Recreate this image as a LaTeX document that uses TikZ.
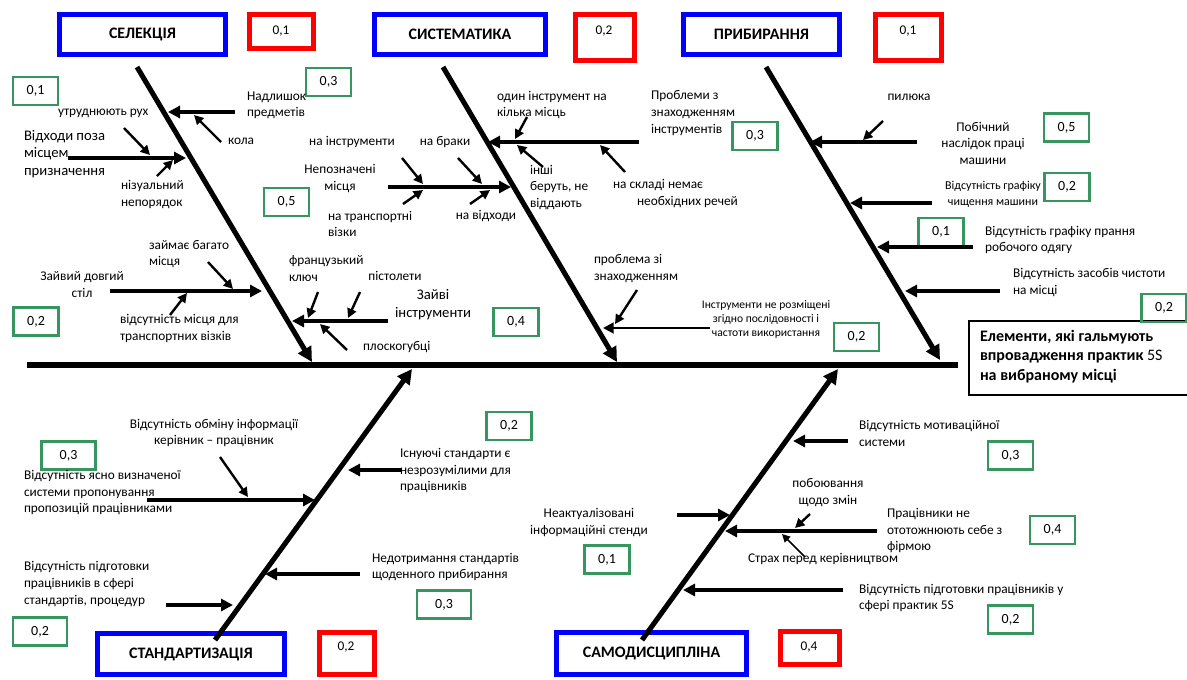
\documentclass[tikz,border=0pt]{standalone}
\usepackage{fontspec}
\setmainfont{Carlito}
\usetikzlibrary{arrows.meta}
\definecolor{gr}{RGB}{55,150,95}
\definecolor{bl}{RGB}{0,0,255}
\definecolor{rd}{RGB}{255,0,0}
\tikzset{
 every node/.style={inner sep=0pt, outer sep=0pt},
 lab/.style={font=\fontsize{10}{12.4}\selectfont, align=left},
 labc/.style={font=\fontsize{10}{12.4}\selectfont, align=center},
 big/.style={font=\fontsize{11}{13.2}\selectfont, align=left},
 bigc/.style={font=\fontsize{11}{13.2}\selectfont, align=center},
 gbox/.style={draw=gr, line width=1.9pt, minimum width=33.75pt, minimum height=21pt, font=\fontsize{10.5}{12}\selectfont},
 gboxw/.style={gbox, minimum width=40.5pt},
 rbox/.style={draw=rd, line width=3.8pt},
 rtxt/.style={font=\fontsize{10}{12}\selectfont},
 bbox/.style={draw=bl, line width=3.8pt, font=\bfseries\fontsize{12}{14}\selectfont},
 bone/.style={line width=3.8pt, -{Triangle[length=11pt,width=11pt]}},
 br/.style={line width=2.8pt, -{Triangle[length=9pt,width=9pt]}},
 brt/.style={line width=2pt, -{Triangle[length=8pt,width=8pt]}},
 sb/.style={line width=1.8pt, -{Triangle[length=7pt,width=7pt]}},
 sbt/.style={line width=1.1pt, -{Triangle[length=6pt,width=6pt]}},
}
\begin{document}
\begin{tikzpicture}[x=0.75pt,y=-0.75pt]
\useasboundingbox (0,0) rectangle (1187,679);
\fill[white] (0,0) rectangle (1187,679);

% ---------- header boxes ----------
\node[bbox, minimum width=124.5pt, minimum height=30pt] (b1) at (142.5,34.5) {СЕЛЕКЦІЯ};
\node[bbox, minimum width=128.25pt, minimum height=30pt] (b2) at (460,34.5) {СИСТЕМАТИКА};
\node[bbox, minimum width=117pt, minimum height=30pt] (b3) at (761.5,34.5) {ПРИБИРАННЯ};
\node[bbox, minimum width=140.25pt, minimum height=30.75pt] (b4) at (191,654) {СТАНДАРТИЗАЦІЯ};
\node[bbox, minimum width=142.5pt, minimum height=31.5pt] (b5) at (651.5,653.5) {САМОДИСЦИПЛІНА};

\node[rbox, minimum width=48pt, minimum height=25.5pt] (r1) at (281.5,31.5) {};
\node[rtxt] (r1t) at (281,31) {0,1};
\node[rbox, minimum width=44.25pt, minimum height=34.5pt] (r2) at (605,37.5) {};
\node[rtxt] (r2t) at (604,31) {0,2};
\node[rbox, minimum width=49.5pt, minimum height=34.5pt] (r3) at (908.5,37.5) {};
\node[rtxt] (r3t) at (908,31) {0,1};
\node[rbox, minimum width=41.25pt, minimum height=31.5pt] (r4) at (347,653.5) {};
\node[rtxt] (r4t) at (346,647) {0,2};
\node[rbox, minimum width=44.25pt, minimum height=24.75pt] (r5) at (810,648) {};
\node[rtxt] (r5t) at (809,647) {0,4};

% ---------- result box ----------
\node[draw, line width=1.5pt, anchor=north west, minimum width=175pt, minimum height=55.5pt] (res) at (969,321) {};
\node[font=\bfseries\fontsize{12}{14.6}\selectfont, align=left, anchor=west] (rest) at (980,356.5)
 {Елементи, які гальмують\\впровадження практик {\mdseries 5S}\\на вибраному місці};

% ---------- spine and bones ----------
\coordinate (sp0) at (27,365); \coordinate (sp1) at (958,365);
\draw[line width=3.8pt] (sp0) -- (sp1);
\coordinate (sel0) at (137,67);  \coordinate (sel1) at (312,362);
\coordinate (sys0) at (443,67);  \coordinate (sys1) at (617,362);
\coordinate (pr0)  at (766,67);  \coordinate (pr1)  at (940,360);
\coordinate (st0)  at (215,640); \coordinate (st1)  at (412,369);
\coordinate (sd0)  at (642,640); \coordinate (sd1)  at (838,369);
\draw[bone] (sel0) -- (sel1);
\draw[bone] (sys0) -- (sys1);
\draw[bone] (pr0) -- (pr1);
\draw[bone] (st0) -- (st1);
\draw[bone] (sd0) -- (sd1);

% ---------- green scores ----------
\node[gbox] (g1) at (35.5,91) {0,1};
\node[gbox] (g2) at (328.5,82) {0,3};
\node[gbox] (g3) at (286.5,202) {0,5};
\node[gbox] (g4) at (36,321.5) {0,2};
\node[gbox] (g5) at (516,322) {0,4};
\node[gbox] (g6) at (755,136) {0,3};
\node[gbox] (g7) at (856.5,337) {0,2};
\node[gbox] (g8) at (1066.5,127.5) {0,5};
\node[gbox] (g9) at (1067,187) {0,2};
\node[gbox] (g10) at (941,232) {0,1};
\node[gbox] (g11) at (1164,308) {0,2};
\node[gboxw] (g12) at (68.5,455.5) {0,3};
\node[gboxw] (g13) at (40,631.5) {0,2};
\node[gbox] (g14) at (509,426) {0,2};
\node[gboxw] (g15) at (444,604.5) {0,3};
\node[gbox] (g16) at (607,559.5) {0,1};
\node[gbox] (g17) at (1010.5,455.5) {0,3};
\node[gbox] (g18) at (1052.5,530) {0,4};
\node[gbox] (g19) at (1010.5,619.5) {0,2};

% ---------- СЕЛЕКЦІЯ ----------
\coordinate (a1s) at (235,112); \coordinate (a1e) at (168,112);
\coordinate (a1as) at (221,142); \coordinate (a1ae) at (194,115);
\draw[br] (a1s) -- (a1e);
\draw[sb] (a1as) -- (a1ae);
\coordinate (a2s) at (68,158); \coordinate (a2e) at (186,158);
\coordinate (a2as) at (124,128); \coordinate (a2ae) at (150,155);
\coordinate (a2bs) at (157,176); \coordinate (a2be) at (173,160);
\draw[br] (a2s) -- (a2e);
\draw[sb] (a2as) -- (a2ae);
\draw[sb] (a2bs) -- (a2be);
\coordinate (a3s) at (110,291); \coordinate (a3e) at (262,291);
\coordinate (a3as) at (208,262); \coordinate (a3ae) at (233,289);
\coordinate (a3bs) at (170,315); \coordinate (a3be) at (187,293);
\draw[br] (a3s) -- (a3e);
\draw[sb] (a3as) -- (a3ae);
\draw[sb] (a3bs) -- (a3be);
\coordinate (a4s) at (388,321); \coordinate (a4e) at (292,321);
\coordinate (a4as) at (318,292); \coordinate (a4ae) at (308,318);
\coordinate (a4bs) at (360,292); \coordinate (a4be) at (348,318);
\coordinate (a4cs) at (347,350); \coordinate (a4ce) at (320,324);
\draw[br] (a4s) -- (a4e);
\draw[sb] (a4as) -- (a4ae);
\draw[sb] (a4bs) -- (a4be);
\draw[sb] (a4cs) -- (a4ce);

\node[lab, anchor=west] (t1) at (58,113) {утруднюють рух};
\node[lab, anchor=west] (t2) at (247,105.5) {Надлишок\\предметів};
\node[lab, anchor=west] (t3) at (228,141) {кола};
\node[big, anchor=west] (t4) at (24,154) {Відходи поза\\місцем\\призначення};
\node[lab, anchor=west] (t5) at (121,194.5) {нізуальний\\непорядок};
\node[lab, anchor=west] (t6) at (149,254) {займає багато\\місця};
\node[labc] (t7) at (82,284.5) {Зайвий довгий\\стіл};
\node[lab, anchor=west] (t8) at (120,328.5) {відсутність місця для\\транспортних візків};
\node[lab, anchor=west] (t9) at (289,268.5) {французький\\ключ};
\node[labc] (t10) at (395,276) {пістолети};
\node[bigc] (t11) at (433,304.5) {Зайві\\інструменти};
\node[lab, anchor=west] (t12) at (363,347) {плоскогубці};

% ---------- СИСТЕМАТИКА ----------
\coordinate (b1s) at (388,187); \coordinate (b1e) at (511,187);
\coordinate (b1as) at (402,158); \coordinate (b1ae) at (423,184);
\coordinate (b1bs) at (403,204); \coordinate (b1be) at (423,190);
\coordinate (b1cs) at (458,158); \coordinate (b1ce) at (482,184);
\coordinate (b1ds) at (470,204); \coordinate (b1de) at (490,190);
\draw[br] (b1s) -- (b1e);
\draw[sb] (b1as) -- (b1ae);
\draw[sb] (b1bs) -- (b1be);
\draw[sb] (b1cs) -- (b1ce);
\draw[sb] (b1ds) -- (b1de);
\coordinate (b2s) at (639,142); \coordinate (b2e) at (488,142);
\coordinate (b2as) at (527,117); \coordinate (b2ae) at (515,139);
\coordinate (b2bs) at (543,167); \coordinate (b2be) at (517,145);
\coordinate (b2cs) at (625,172); \coordinate (b2ce) at (600,145);
\draw[br] (b2s) -- (b2e);
\draw[sb] (b2as) -- (b2ae);
\draw[sb] (b2bs) -- (b2be);
\draw[sb] (b2cs) -- (b2ce);
\coordinate (b3s) at (710,328); \coordinate (b3e) at (603,328);
\coordinate (b3as) at (637,290); \coordinate (b3ae) at (615,324);
\draw[brt] (b3s) -- (b3e);
\draw[sb] (b3as) -- (b3ae);

\node[labc] (u1) at (352,142) {на інструменти};
\node[labc] (u2) at (445,142) {на браки};
\node[labc] (u3) at (340,178.5) {Непозначені\\місця};
\node[lab, anchor=west] (u4) at (328,224) {на транспортні\\візки};
\node[labc] (u5) at (486,216) {на відходи};
\node[lab, anchor=west] (u6) at (497,105) {один інструмент на\\кілька місць};
\node[lab, anchor=west] (u7) at (530,187.5) {інші\\беруть, не\\віддають};
\node[lab, anchor=west] (u8) at (651,113) {Проблеми з\\знаходженням\\інструментів};
\node[lab, anchor=west] (u9) at (613,185) {на складі немає};
\node[lab, anchor=west] (u10) at (637,202) {необхідних речей};
\node[lab, anchor=west] (u11) at (594,268.5) {проблема зі\\знаходженням};
\node[font=\fontsize{8.7}{10.5}\selectfont, align=center] (u12) at (766,319) {Інструменти не розміщені\\згідно послідовності і\\частоти використання};

% ---------- ПРИБИРАННЯ ----------
\coordinate (c1s) at (917,142); \coordinate (c1e) at (810,142);
\coordinate (c1as) at (883,121); \coordinate (c1ae) at (863,140);
\draw[br] (c1s) -- (c1e);
\draw[sb] (c1as) -- (c1ae);
\coordinate (c2s) at (932,203); \coordinate (c2e) at (850,203);
\draw[br] (c2s) -- (c2e);
\coordinate (c3s) at (973,247); \coordinate (c3e) at (877,247);
\draw[br] (c3s) -- (c3e);
\coordinate (c4s) at (1000,291); \coordinate (c4e) at (905,291);
\draw[br] (c4s) -- (c4e);

\node[labc] (v1) at (909,97) {пилюка};
\node[labc] (v2) at (983,143) {Побічний\\наслідок праці\\машини};
\node[font=\fontsize{9}{12.4}\selectfont, align=center] (v3) at (993,194.5) {Відсутність графіку\\чищення машини};
\node[lab, anchor=west] (v4) at (985,240) {Відсутність графіку прання\\робочого одягу};
\node[lab, anchor=west] (v5) at (1013,282.5) {Відсутність засобів чистоти\\на місці};

% ---------- СТАНДАРТИЗАЦІЯ ----------
\coordinate (d1s) at (147,500); \coordinate (d1e) at (315,500);
\coordinate (d1as) at (220,457); \coordinate (d1ae) at (248,497);
\draw[br] (d1s) -- (d1e);
\draw[sb] (d1as) -- (d1ae);
\coordinate (d2s) at (166,605); \coordinate (d2e) at (233,605);
\draw[br] (d2s) -- (d2e);
\coordinate (d3s) at (402,470); \coordinate (d3e) at (348,470);
\draw[br] (d3s) -- (d3e);
\coordinate (d4s) at (360,574); \coordinate (d4e) at (265,574);
\draw[br] (d4s) -- (d4e);

\node[labc] (w1) at (214,433) {Відсутність обміну інформації\\керівник – працівник};
\node[lab, anchor=west] (w2) at (24,492.5) {Відсутність ясно визначеної\\системи пропонування\\пропозицій працівниками};
\node[lab, anchor=west] (w3) at (24,584) {Відсутність підготовки\\працівників в сфері\\стандартів, процедур};
\node[lab, anchor=west] (w4) at (400,470.5) {Існуючі стандарти є\\незрозумілими для\\працівників};
\node[lab, anchor=west] (w5) at (372,567) {Недотримання стандартів\\щоденного прибирання};

% ---------- САМОДИСЦИПЛІНА ----------
\coordinate (e1s) at (677,515); \coordinate (e1e) at (730,515);
\draw[br] (e1s) -- (e1e);
\coordinate (e2s) at (877,531); \coordinate (e2e) at (725,531);
\coordinate (e2as) at (810,514); \coordinate (e2ae) at (795,528);
\coordinate (e2bs) at (805,557); \coordinate (e2be) at (782,534);
\draw[br] (e2s) -- (e2e);
\draw[sb] (e2as) -- (e2ae);
\draw[sbt] (e2bs) -- (e2be);
\coordinate (e3s) at (848,441); \coordinate (e3e) at (793,441);
\draw[br] (e3s) -- (e3e);
\coordinate (e4s) at (843,590); \coordinate (e4e) at (683,590);
\draw[br] (e4s) -- (e4e);

\node[labc] (x1) at (589,522.5) {Неактуалізовані\\інформаційні стенди};
\node[lab, anchor=west] (x2) at (859,433.5) {Відсутність мотиваційної\\системи};
\node[labc] (x3) at (828,492.5) {побоювання\\щодо змін};
\node[lab, anchor=west] (x4) at (887,530.5) {Працівники не\\ототожнюють себе з\\фірмою};
\node[lab, anchor=west] (x5) at (748,559) {Страх перед керівництвом};
\node[lab, anchor=west] (x6) at (859,598) {Відсутність підготовки працівників у\\сфері практик 5S};
\end{tikzpicture}
\end{document}
